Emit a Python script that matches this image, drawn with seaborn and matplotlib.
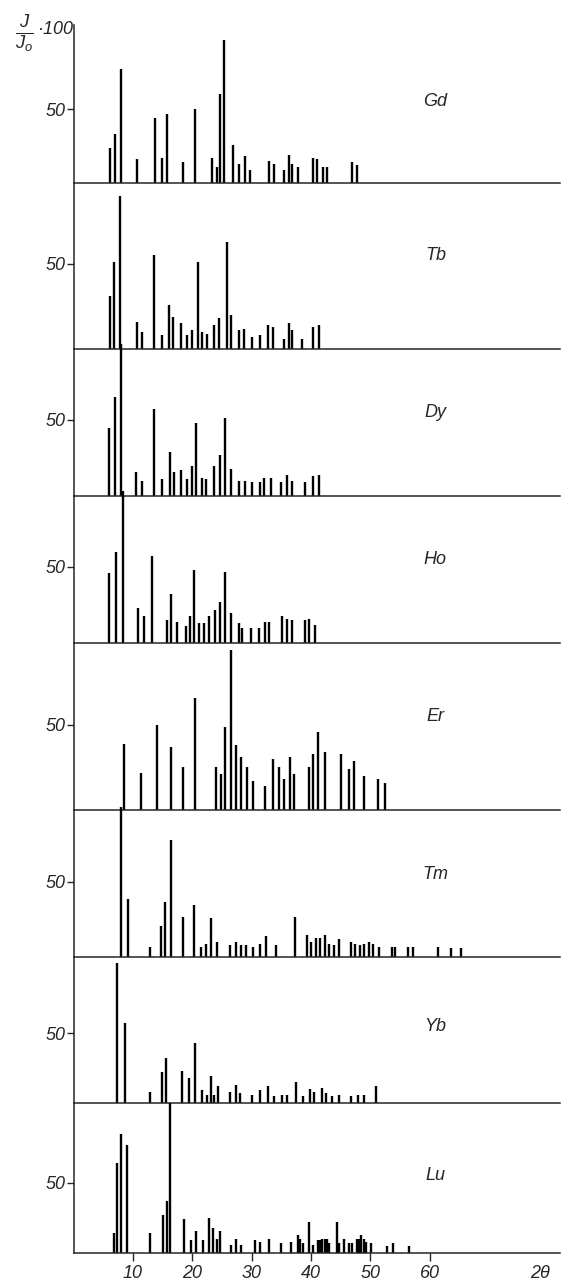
import matplotlib
matplotlib.use("Agg")
import matplotlib.pyplot as plt
import seaborn as sns

elements = ["Gd", "Tb", "Dy", "Ho", "Er", "Tm", "Yb", "Lu"]

gd_2theta = [6.1, 6.9, 8.0, 10.75, 13.8, 14.9, 15.8, 18.4, 20.5, 23.4, 24.1, 24.7, 25.4, 26.8, 27.8,
             28.9, 29.7, 32.9, 33.8, 35.4, 36.3, 36.9, 37.9, 40.3, 41.0, 42.0, 42.8, 46.9, 47.7]
gd_int = [24, 33, 77, 16, 44, 17, 47, 14, 50, 17, 11, 60, 97, 26, 13,
          18, 9, 15, 13, 9, 19, 13, 11, 17, 16, 11, 11, 14, 12]

tb_2theta = [6.1, 6.8, 7.8, 10.7, 11.6, 13.55, 14.9, 16.1, 16.8, 18.05, 19.05, 20.0, 20.9, 21.7, 22.5,
             23.6, 24.5, 25.8, 26.6, 27.9, 28.8, 30.1, 31.5, 32.7, 33.6, 35.4, 36.3, 36.9, 38.5, 40.4, 41.3]
tb_int = [31, 51, 90, 16, 10, 55, 8, 26, 19, 15, 8, 11, 51, 10, 9,
          14, 18, 63, 20, 11, 12, 7, 8, 14, 13, 6, 15, 11, 6, 13, 14]

dy_2theta = [6.0, 6.9, 8.0, 10.6, 11.6, 13.55, 14.9, 16.2, 16.9, 18.1, 19.2, 20.0, 20.6, 21.6, 22.4,
             23.6, 24.6, 25.6, 26.5, 27.9, 28.9, 30.0, 31.4, 32.1, 33.2, 35.0, 36.0, 36.9, 39.0, 40.4, 41.3]
dy_int = [45, 65, 100, 16, 10, 57, 11, 29, 16, 17, 11, 20, 48, 12, 11,
          20, 27, 51, 18, 10, 10, 9, 9, 12, 12, 9, 14, 10, 9, 13, 14]

ho_2theta = [6.0, 7.1, 8.3, 10.8, 11.9, 13.3, 15.8, 16.4, 17.4, 18.9, 19.7, 20.3, 21.1, 21.9, 22.9,
             23.9, 24.7, 25.6, 26.5, 27.8, 28.4, 29.9, 31.3, 32.2, 33.0, 35.1, 36.0, 36.9, 39.0, 39.75, 40.7]
ho_int = [46, 60, 100, 23, 18, 57, 15, 32, 14, 11, 18, 48, 13, 13, 18,
          22, 27, 47, 20, 13, 10, 10, 10, 14, 14, 18, 16, 15, 15, 16, 12]

er_2theta = [8.45, 11.4, 14.1, 16.5, 18.4, 20.5, 24.0, 24.9, 25.6, 26.5, 27.4, 28.3, 29.3, 30.2, 32.3,
             33.6, 34.7, 35.5, 36.4, 37.2, 39.7, 40.4, 41.2, 42.4, 45.1, 46.5, 47.3, 49.0, 51.3, 52.5]
er_int = [39, 22, 50, 37, 25, 66, 25, 21, 49, 94, 38, 31, 25, 17, 14,
          30, 25, 18, 31, 21, 25, 33, 46, 34, 33, 24, 29, 20, 18, 16]

tm_2theta = [8.0, 9.2, 12.8, 14.7, 15.4, 16.5, 18.45, 20.35, 21.5, 22.3, 23.2, 24.2, 26.4, 27.4, 28.2,
             29.0, 30.3, 31.4, 32.4, 34.1, 37.3, 39.3, 40.0, 40.8, 41.55, 42.4, 43.1, 43.9, 44.8, 46.7,
             47.45, 48.3, 49.0, 49.8, 50.5, 51.5, 53.6, 54.2, 56.3, 57.2, 61.5, 63.6, 65.3]
tm_int = [100, 39, 7, 21, 37, 78, 27, 35, 7, 9, 26, 10, 8, 10, 8,
          8, 7, 9, 14, 8, 27, 15, 10, 13, 13, 15, 9, 8, 12, 10,
          9, 8, 9, 10, 9, 7, 7, 7, 7, 7, 7, 6, 6]

yb_2theta = [7.4, 8.7, 12.8, 14.9, 15.6, 18.2, 19.5, 20.4, 21.6, 22.45, 23.2, 23.7, 24.4, 26.4, 27.3,
             28.1, 30.1, 31.4, 32.8, 33.8, 35.1, 35.9, 37.5, 38.7, 39.8, 40.6, 41.8, 42.6, 43.5, 44.7,
             46.8, 48.0, 48.9, 50.9]
yb_int = [100, 57, 8, 22, 32, 23, 18, 43, 9, 6, 19, 6, 12, 8, 13,
          7, 6, 9, 12, 5, 6, 6, 15, 5, 10, 8, 11, 7, 5, 6,
          5, 6, 6, 12]

lu_2theta = [6.8, 7.4, 8.05, 8.95, 12.9, 15.1, 15.8, 16.3, 18.6, 19.85, 20.6, 21.8, 22.8, 23.5, 24.1,
             24.7, 26.6, 27.3, 28.2, 30.6, 31.4, 32.9, 34.9, 36.7, 37.8, 38.2, 38.7, 39.7, 40.4, 41.2,
             41.55, 41.9, 42.3, 42.7, 43.1, 44.4, 44.8, 45.65, 46.4, 47.0, 47.8, 48.1, 48.5, 49.0, 49.3,
             50.15, 52.8, 53.8, 56.6]
lu_int = [14, 64, 85, 77, 14, 27, 37, 107, 24, 9, 16, 9, 25, 18, 10,
          16, 6, 10, 6, 9, 8, 10, 7, 8, 13, 10, 7, 22, 6, 9,
          9, 10, 10, 10, 7, 22, 7, 10, 7, 7, 10, 10, 13, 10, 8,
          7, 5, 7, 5]

positions = [gd_2theta, tb_2theta, dy_2theta, ho_2theta, er_2theta, tm_2theta, yb_2theta, lu_2theta]
intensities = [gd_int, tb_int, dy_int, ho_int, er_int, tm_int, yb_int, lu_int]

x_ticks = [10, 20, 30, 40, 50, 60]

sns.set_style("ticks")
plt.rcParams["font.family"] = ["Liberation Sans", "DejaVu Sans"]
plt.rcParams["font.style"] = "italic"
plt.rcParams["mathtext.fontset"] = "custom"
plt.rcParams["mathtext.it"] = "Liberation Sans:italic"
plt.rcParams["mathtext.rm"] = "Liberation Sans:italic"

W, H = 564, 1285
fig = plt.figure(figsize=(W / 100, H / 100), dpi=100)

# panel geometry in pixels (baseline of each strip, top of first strip)
baselines = [183, 349, 496, 643, 810, 957, 1103, 1253]
tops = [25] + baselines[:-1]
ymax = [107, 97.6, 96.7, 96.7, 98.2, 98, 104.3, 107.1]
left_px, right_px = 73.6, 560

for i, el in enumerate(elements):
    ax = fig.add_axes([left_px / W, 1 - baselines[i] / H,
                       (right_px - left_px) / W, (baselines[i] - tops[i]) / H])
    ax.set_facecolor("none")
    ax.vlines(positions[i], 0, intensities[i], color="black", lw=1.7, clip_on=False)
    ax.set_xlim(0, 82)
    ax.set_ylim(0, ymax[i])
    ax.set_yticks([50])
    ax.set_yticklabels(["50"], fontsize=13, style="italic")
    ax.tick_params(axis="y", length=5, width=1, pad=1, direction="out")
    sns.despine(ax=ax, top=True, right=True)
    for s in ["left", "bottom"]:
        ax.spines[s].set_linewidth(1.1)
    ax.text(61, 55, el, fontsize=13, style="italic", ha="center", va="center")
    if i < len(elements) - 1:
        ax.set_xticks([])
    else:
        ax.set_xticks(x_ticks)
        ax.set_xticklabels([str(t) for t in x_ticks], fontsize=13, style="italic")
        ax.tick_params(axis="x", length=6, width=1, pad=3, direction="out")

fig.text(540 / W, 1 - 1273 / H, "2θ", fontsize=13, style="italic", ha="center", va="center")
fig.text(24 / W, 1 - 34 / H, r"$\frac{J}{J_o}$", fontsize=19, ha="center", va="center")
fig.text(37 / W, 1 - 30 / H, "·100", fontsize=13, style="italic", ha="left", va="center")

fig.savefig("out.png", dpi=100)
